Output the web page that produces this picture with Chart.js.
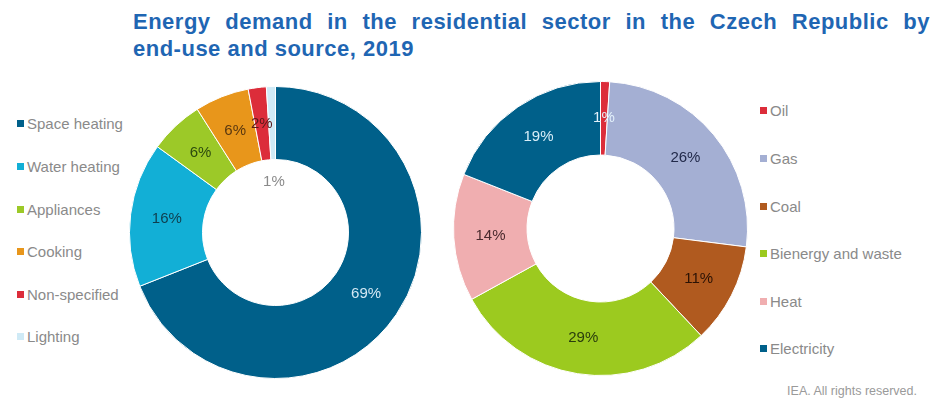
<!DOCTYPE html>
<html>
<head>
<meta charset="utf-8">
<script src="https://cdn.jsdelivr.net/npm/chart.js@4/dist/chart.umd.min.js"></script>
<style>
  html, body { margin: 0; padding: 0; background: #fff; }
  body { width: 940px; height: 399px; position: relative; overflow: hidden;
         font-family: "Liberation Sans", Arial, Helvetica, sans-serif; }
  .title { position: absolute; left: 133px; color: #1f66b3; font-weight: bold;
           font-size: 22px; letter-spacing: 0.5px; line-height: 1; white-space: nowrap; }
  #title1 { top: 11px; }
  #title2 { top: 38px; }
  canvas { position: absolute; }
  #endUse { left: 129px; top: 86px; }
  #source { left: 453px; top: 81px; }
  .legend { position: absolute; list-style: none; margin: 0; padding: 0;
            font-size: 15px; color: #8a8a8a; }
  .legend li { display: flex; align-items: center; white-space: nowrap; }
  .legend .sw { width: 7px; height: 7px; margin-right: 3px; flex: none; }
  #legendEndUse { left: 17px; top: 102.7px; }
  #legendEndUse li { height: 42.6px; }
  #legendSource { left: 760px; top: 87.2px; }
  #legendSource li { height: 47.6px; }
  #credit { position: absolute; right: 23px; top: 384px; font-size: 12.5px; color: #9a9a9a; }
</style>
</head>
<body>
<div class="title" id="title1">Energy demand in the residential sector in the Czech Republic by</div>
<div class="title" id="title2">end-use and source, 2019</div>

<ul class="legend" id="legendEndUse"></ul>
<canvas id="endUse" width="293" height="293"></canvas>
<canvas id="source" width="295" height="295"></canvas>
<ul class="legend" id="legendSource"></ul>

<div id="credit">IEA. All rights reserved.</div>

<script>
// Shares of residential energy demand, 2019 (%)
const endUseLabels = ['Space heating', 'Water heating', 'Appliances', 'Cooking', 'Non-specified', 'Lighting'];
const endUseShares = [69, 16, 6, 6, 2, 1];
const endUseColors = ['#00608a', '#12afd6', '#9cc928', '#e8961b', '#dc2d3a', '#cfeaf6'];
const endUseLabelColors = ['#d3e8f4', '#0f3d4d', '#2c4a0e', '#5a3810', '#5a1a1a', '#8a8a8a'];

const sourceLabels = ['Oil', 'Gas', 'Coal', 'Bienergy and waste', 'Heat', 'Electricity'];
const sourceShares = [1, 26, 11, 29, 14, 19];
const sourceColors = ['#dc2d3a', '#a4afd3', '#b05a1f', '#9cca1f', '#f0aeb0', '#00608a'];
const sourceLabelColors = ['#e2f0fa', '#222a4a', '#2a1205', '#2a3d0d', '#4a2a2e', '#d8eef8'];

// Justify the first title line across the full heading width
(function () {
  const t1 = document.getElementById('title1');
  const natural = t1.getBoundingClientRect().width;
  const gaps = t1.textContent.split(' ').length - 1;
  const extra = (797 - natural) / gaps;
  if (extra > 0) t1.style.wordSpacing = extra + 'px';
})();

// Percentage text drawn in the middle of each ring segment
const sliceLabels = {
  id: 'sliceLabels',
  afterDatasetsDraw(chart, args, opts) {
    const ctx = chart.ctx;
    const meta = chart.getDatasetMeta(0);
    const values = chart.data.datasets[0].data;
    ctx.save();
    ctx.font = opts.font;
    ctx.textAlign = 'center';
    ctx.textBaseline = 'middle';
    meta.data.forEach((arc, i) => {
      const p = arc.getProps(['x', 'y', 'startAngle', 'endAngle', 'innerRadius', 'outerRadius'], true);
      const mid = (p.startAngle + p.endAngle) / 2;
      const f = (opts.radial && opts.radial[i] != null) ? opts.radial[i] : 0.5;
      const r = p.innerRadius + (p.outerRadius - p.innerRadius) * f;
      ctx.fillStyle = opts.colors[i];
      ctx.fillText(values[i] + '%', p.x + Math.cos(mid) * r, p.y + Math.sin(mid) * r);
    });
    ctx.restore();
  }
};

// Legend list built from the chart's own legend items
function buildLegend(chart, listId) {
  const list = document.getElementById(listId);
  const items = chart.options.plugins.legend.labels.generateLabels(chart);
  items.forEach(item => {
    const li = document.createElement('li');
    const sw = document.createElement('span');
    sw.className = 'sw';
    sw.style.background = item.fillStyle;
    li.appendChild(sw);
    li.appendChild(document.createTextNode(item.text));
    list.appendChild(li);
  });
}

function ring(canvasId, labels, values, colors, labelColors, radial) {
  return new Chart(document.getElementById(canvasId), {
    type: 'doughnut',
    data: {
      labels: labels,
      datasets: [{
        data: values,
        backgroundColor: colors,
        borderColor: '#ffffff',
        borderWidth: 1
      }]
    },
    options: {
      responsive: false,
      animation: false,
      cutout: '50%',
      layout: { padding: 0 },
      plugins: {
        legend: { display: false },
        tooltip: { enabled: false },
        sliceLabels: {
          font: '15px "Liberation Sans", Arial, sans-serif',
          colors: labelColors,
          radial: radial
        }
      }
    },
    plugins: [sliceLabels]
  });
}

const endUseChart = ring('endUse', endUseLabels, endUseShares, endUseColors, endUseLabelColors,
  [null, null, null, null, null, -0.3]);
const sourceChart = ring('source', sourceLabels, sourceShares, sourceColors, sourceLabelColors, null);

buildLegend(endUseChart, 'legendEndUse');
buildLegend(sourceChart, 'legendSource');
</script>
</body>
</html>
